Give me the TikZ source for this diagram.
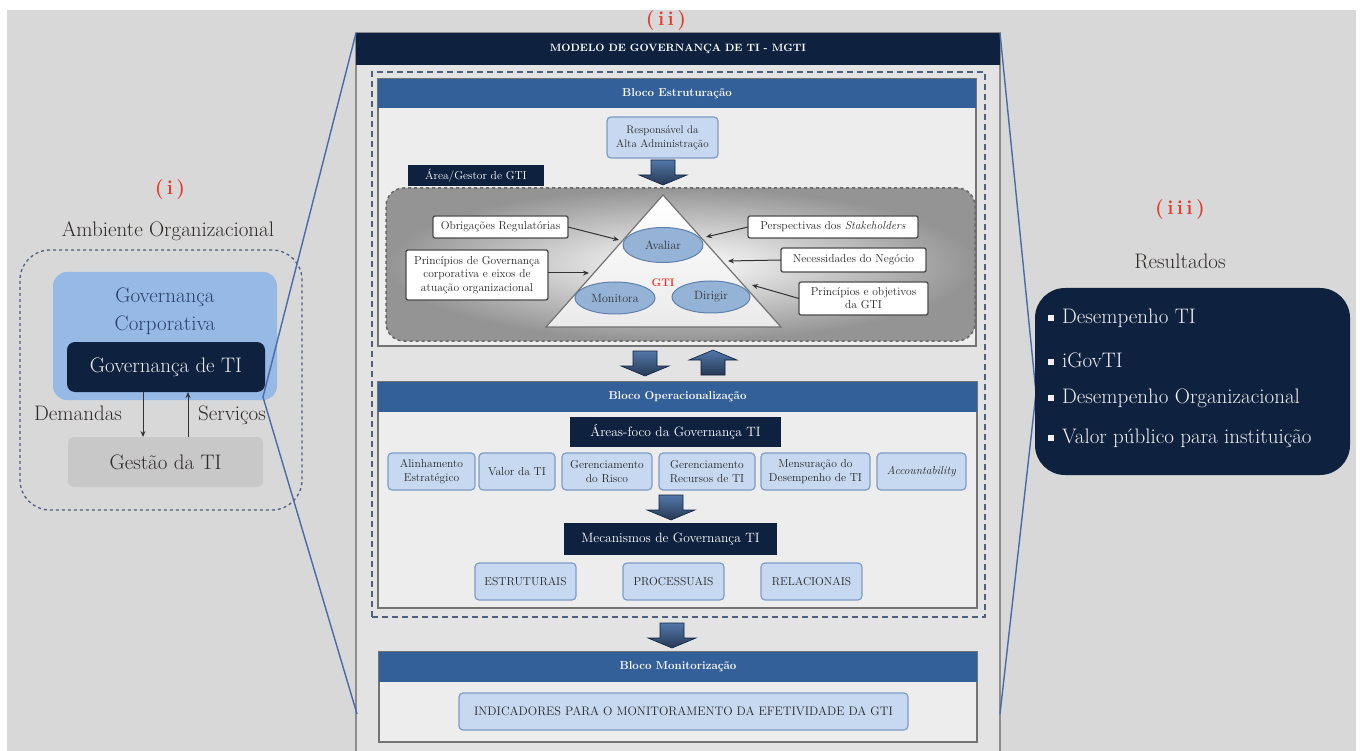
\documentclass[tikz,border=0pt]{standalone}
\usetikzlibrary{shapes.geometric,arrows.meta,shadings}
\definecolor{bggray}{HTML}{D8D8D8}
\definecolor{panelgray}{HTML}{E3E3E3}
\definecolor{bodygray}{HTML}{EDEDED}
\definecolor{navy}{HTML}{0E2240}
\definecolor{hblue}{HTML}{34609A}
\definecolor{lblue}{HTML}{C6D9F1}
\definecolor{lbluedraw}{HTML}{7E9CC8}
\definecolor{corpblue}{HTML}{96B9E6}
\definecolor{ellblue}{HTML}{95B3D7}
\definecolor{linkblue}{HTML}{4A6AA8}
\definecolor{redlab}{HTML}{E63B2E}
\definecolor{txtdark}{HTML}{2E2A28}
\definecolor{corptext}{HTML}{2B3F66}
\definecolor{gestgray}{HTML}{C8C8C8}
\definecolor{dashnavy}{HTML}{4F5F80}
\tikzset{
  x=1pt, y=-1pt,
  every node/.style={inner sep=0pt, outer sep=0pt},
  bigfont/.style={font=\fontsize{21}{25}\selectfont},
  redlabel/.style={text=redlab, font=\fontsize{20}{24}\selectfont\bfseries},
  hdr/.style={fill=hblue, text=white, font=\fontsize{11.5}{13}\selectfont\bfseries, minimum height=29, anchor=north west},
  blockbody/.style={draw=black!55, line width=1.3pt, fill=bodygray, anchor=north west},
  navybox/.style={fill=navy, text=white, font=\fontsize{13.5}{15}\selectfont},
  lbox/.style={draw=lbluedraw, line width=1.2pt, fill=lblue, rounded corners=4pt, align=center, text=black!85, font=\fontsize{11.5}{13.5}\selectfont},
  wbox/.style={draw=black!70, line width=1.3pt, fill=white, rounded corners=2pt, align=center, text=black!85, font=\fontsize{11.5}{13.5}\selectfont},
  govell/.style={ellipse, draw=hblue!80, line width=1pt, fill=ellblue, text=black!80, font=\fontsize{12}{14}\selectfont},
  thinarrow/.style={-{Stealth[length=6pt,width=5pt]}, line width=1pt, draw=black!80},
  linkline/.style={draw=linkblue, line width=1.4pt},
  bigarrowfill/.style={top color=hblue!85!white, bottom color=navy!90, draw=navy, line width=0.6pt},
  bigdown/.pic={\path[bigarrowfill] (-12,-12) -- (12,-12) -- (12,3) -- (24,3) -- (0,13) -- (-24,3) -- (-12,3) -- cycle;},
  bigup/.pic={\path[bigarrowfill] (-12,12) -- (12,12) -- (12,-3) -- (24,-3) -- (0,-13) -- (-24,-3) -- (-12,-3) -- cycle;},
}
\begin{document}
\begin{tikzpicture}
\useasboundingbox (0,0) rectangle (1360,751);
\clip (0,0) rectangle (1360,751);
\fill[white] (0,0) rectangle (1360,751);
\fill[bggray] (7,10) rectangle (1356,751);

% ---------- (i) left ----------
\node[redlabel] (lab1) at (170,190) {(\,i\,)};
\node[bigfont, text=txtdark] (amb) at (168,231) {Ambiente Organizacional};
\node[draw=dashnavy, dashed, line width=1.3pt, rounded corners=30pt, minimum width=282, minimum height=260] (ambbox) at (161,380) {};
\node[fill=corpblue, rounded corners=14pt, minimum width=224, minimum height=128] (corp) at (165,336) {};
\node[text=corptext, align=center, font=\fontsize{21}{28}\selectfont] (corptxt) at (165,311) {Governança\\Corporativa};
\node[fill=navy, rounded corners=8pt, minimum width=198, minimum height=50, text=white!92!black, bigfont] (govti) at (166,367) {Governança de TI};
\node[fill=gestgray, rounded corners=6pt, minimum width=195, minimum height=50, text=txtdark, bigfont] (gest) at (165.5,462) {Gestão da TI};
\node[bigfont, text=txtdark] (dem) at (78,413) {Demandas};
\node[bigfont, text=txtdark] (serv) at (232,415) {Serviços};
\draw[thinarrow] (govti.south -| 143,0) -- (gest.north -| 143,0);
\draw[thinarrow] (gest.north -| 188,0) -- (govti.south -| 188,0);

% ---------- (ii) panel ----------
\node[redlabel] (lab2) at (666,21) {(\,i\,i\,)};
\node[draw=black!45, line width=1.5pt, fill=panelgray, minimum width=644, minimum height=740, anchor=north west] (mgti) at (356,33) {};
\node[fill=navy, text=white, minimum width=644, minimum height=32, anchor=north west, font=\fontsize{10.6}{12}\selectfont\bfseries] (mgtih) at (356,33) {MODELO DE GOVERNANÇA DE TI - MGTI};
\node[draw=dashnavy, dashed, dash pattern=on 6pt off 4pt, line width=2.5pt, minimum width=613, minimum height=545, anchor=north west] (dashreg) at (372,72) {};

% Bloco Estruturacao
\node[blockbody, minimum width=598, minimum height=267] (estr) at (378,79) {};
\node[hdr, minimum width=598] (estrh) at (378,79) {Bloco Estruturação};
\node[lbox, minimum width=111, minimum height=41, font=\fontsize{11}{14}\selectfont] (resp) at (662.5,137.5) {Responsável da\\Alta Administração};
\pic at (663,172) {bigdown};
\node[draw=black!60, dashed, line width=1.5pt, rounded corners=18pt, inner color=white, outer color=black!42, minimum width=589, minimum height=153] (gtiarea) at (680.5,264.5) {};
\node[fill=navy, text=white, minimum width=136, minimum height=21, font=\fontsize{11.5}{13}\selectfont] (gestor) at (476,175.5) {Área/Gestor de GTI};
\coordinate (tA) at (663,195);
\coordinate (tB) at (546,327);
\coordinate (tC) at (781,327);
\draw[draw=black!55, line width=1.2pt, top color=white, bottom color=black!8] (tA) -- (tB) -- (tC) -- cycle;
\node[govell, minimum width=80, minimum height=35] (aval) at (663,245) {Avaliar};
\node[govell, minimum width=80, minimum height=32] (moni) at (615,298) {Monitora};
\node[govell, minimum width=78, minimum height=32] (diri) at (711,297) {Dirigir};
\node[text=redlab, font=\fontsize{11}{13}\selectfont\bfseries] (gti) at (663,283) {GTI};

\node[wbox, minimum width=135, minimum height=22] (obr) at (500.5,227) {Obrigações Regulatórias};
\node[wbox, minimum width=142, minimum height=50] (pgov) at (477,275) {Princípios de Governança\\corporativa e eixos de\\atuação organizacional};
\node[wbox, minimum width=170, minimum height=22] (persp) at (833,227) {Perspectivas dos \textit{Stakeholders}};
\node[wbox, minimum width=145, minimum height=24] (nec) at (853.5,260) {Necessidades do Negócio};
\node[wbox, minimum width=129, minimum height=33, font=\fontsize{11.5}{13}\selectfont] (pobj) at (863.5,298.5) {Princípios e objetivos\\da GTI};
\coordinate (e1) at (619,240);
\coordinate (e2) at (589,273);
\coordinate (e3) at (706,237);
\coordinate (e4) at (728,261);
\coordinate (e5) at (752,285);
\draw[thinarrow] (obr.east) -- (e1);
\draw[thinarrow] (pgov.east |- e2) -- (e2);
\draw[thinarrow] (persp.west) -- (e3);
\draw[thinarrow] (nec.west) -- (e4);
\draw[thinarrow] (pobj.west) -- (e5);

\pic at (645,363) {bigdown};
\pic at (713,363) {bigup};

% Bloco Operacionalizacao
\node[blockbody, minimum width=599, minimum height=226] (oper) at (378,382) {};
\node[hdr, minimum width=599, minimum height=30] (operh) at (378,382) {Bloco Operacionalização};
\node[navybox, minimum width=211, minimum height=30] (areas) at (675.5,432) {Áreas-foco da Governança TI};
\node[lbox, minimum width=87, minimum height=37] (f1) at (431.5,471.5) {Alinhamento\\Estratégico};
\node[lbox, minimum width=76, minimum height=37] (f2) at (517,471.5) {Valor da TI};
\node[lbox, minimum width=90, minimum height=37] (f3) at (607,471.5) {Gerenciamento\\do Risco};
\node[lbox, minimum width=96, minimum height=37] (f4) at (707,471.5) {Gerenciamento\\Recursos de TI};
\node[lbox, minimum width=109, minimum height=37] (f5) at (815.5,471.5) {Mensuração do\\Desempenho de TI};
\node[lbox, minimum width=89, minimum height=37] (f6) at (921.5,471.5) {\textit{Accountability}};
\pic at (671,507) {bigdown};
\node[navybox, minimum width=213, minimum height=32] (mec) at (670.5,539) {Mecanismos de Governança TI};
\node[lbox, minimum width=101, minimum height=37] (m1) at (525.5,581.5) {ESTRUTURAIS};
\node[lbox, minimum width=101, minimum height=37] (m2) at (673.5,581.5) {PROCESSUAIS};
\node[lbox, minimum width=101, minimum height=37] (m3) at (811.5,581.5) {RELACIONAIS};

\pic at (672,635) {bigdown};

% Bloco Monitorizacao
\node[blockbody, minimum width=598, minimum height=90] (moni2) at (379,652) {};
\node[hdr, minimum width=598, minimum height=30] (monih) at (379,652) {Bloco Monitorização};
\node[lbox, minimum width=449, minimum height=37, font=\fontsize{12.3}{14}\selectfont] (ind) at (683.5,711.5) {INDICADORES PARA O MONITORAMENTO DA EFETIVIDADE DA GTI};

% ---------- (iii) right ----------
\node[redlabel] (lab3) at (1180,210) {(\,i\,i\,i\,)};
\node[bigfont, text=txtdark] (resu) at (1180,261) {Resultados};
\coordinate (rjoin) at (1036,393);
\coordinate (rbot) at (1000,714);
\draw[linkline] (mgti.north east) -- (rjoin) -- (rbot);
\node[fill=navy, rounded corners=30pt, minimum width=315, minimum height=187] (resbox) at (1192.5,381.5) {};
\foreach \yy/\tt/\nm in {318/Desempenho TI/r1, 360/iGovTI/r2, 398/Desempenho Organizacional/r3, 438/Valor público para instituição/r4}{
  \node[bigfont, text=white!94!black, anchor=west] (\nm) at (1048,\yy) {\rule[2pt]{6pt}{6pt}\hspace{8pt}\tt};
}

% ---------- links (i) -> (ii) ----------
\coordinate (ljoin) at (263,397);
\coordinate (lbot) at (357,714);
\draw[linkline] (mgti.north west) -- (ljoin) -- (lbot);
\end{tikzpicture}
\end{document}
